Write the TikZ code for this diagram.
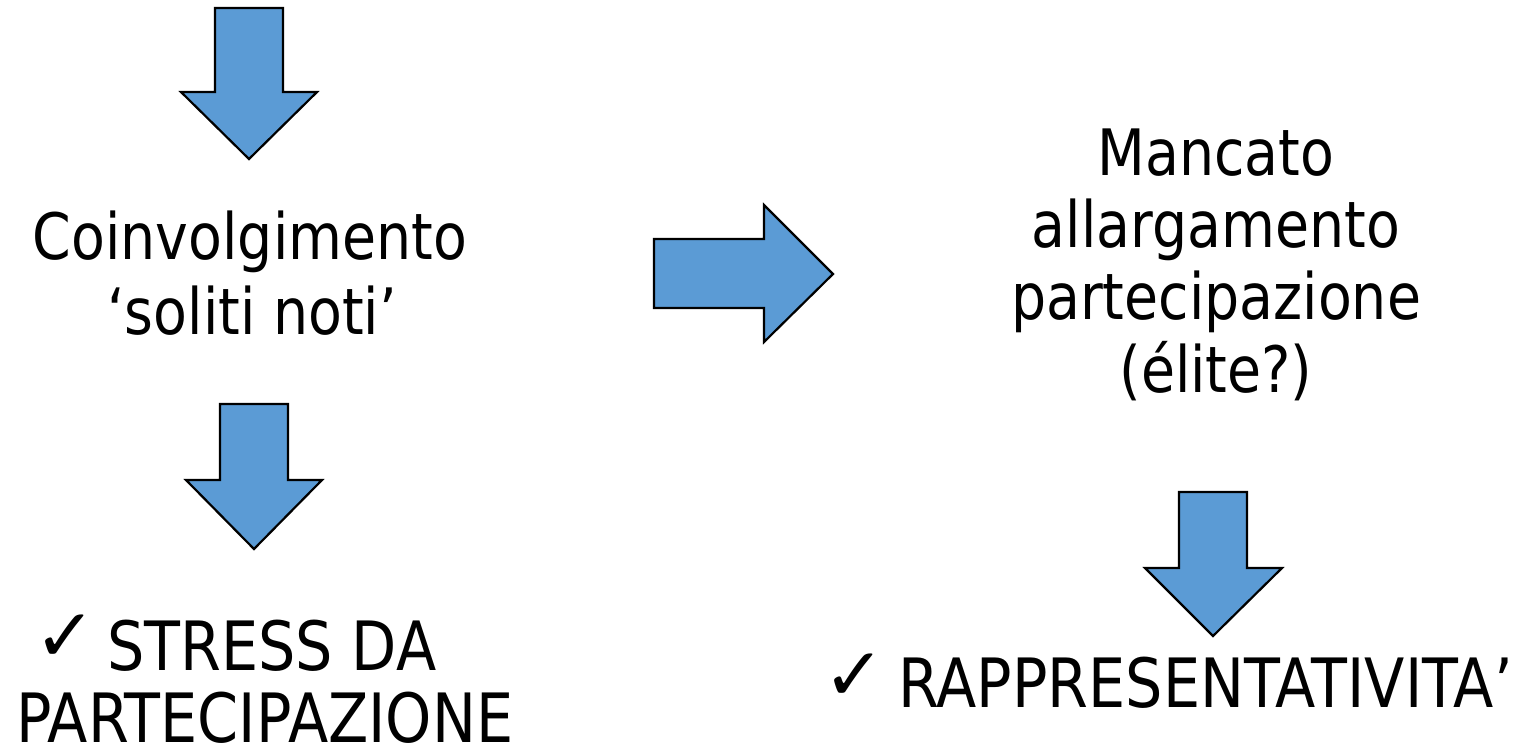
\documentclass[tikz,border=0pt]{standalone}
\usepackage{fontspec}
\setmainfont[FakeStretch=0.865]{DejaVu Sans}
\newfontfamily\chkfont{DejaVu Sans}
\definecolor{arrowblue}{RGB}{91,155,213}
\tikzset{
  blockarrow/.style={fill=arrowblue, draw=black, line width=2.2pt, line join=miter},
  line/.style={anchor=base, inner sep=0pt, font=\fontsize{64}{77}\selectfont},
  bigline/.style={anchor=base west, inner sep=0pt, font=\fontsize{68}{80}\selectfont},
  tick/.style={anchor=base west, inner sep=0pt, font=\chkfont\fontsize{74}{88}\selectfont}
}
\begin{document}
\begin{tikzpicture}[x=1pt, y=-1pt]
  \useasboundingbox (0,0) rectangle (1517,749);

  % block arrows
  \draw[blockarrow] (215,8) -- (283,8) -- (283,92) -- (317,92) -- (249,159)
                    -- (181,92) -- (215,92) -- cycle;
  \draw[blockarrow] (220,404) -- (288,404) -- (288,480) -- (322,480) -- (254,549)
                    -- (186,480) -- (220,480) -- cycle;
  \draw[blockarrow] (1179,492) -- (1247,492) -- (1247,568) -- (1282,568) -- (1213,636)
                    -- (1145,568) -- (1179,568) -- cycle;
  \draw[blockarrow] (654,239) -- (764,239) -- (764,205) -- (833,274) -- (764,342)
                    -- (764,308) -- (654,308) -- cycle;

  % left block
  \node[line] (coinv) at (250,259) {Coinvolgimento};
  \node[line] (soliti) at (252,334) {‘soliti noti’};

  % right block
  \node[line] (mancato) at (1216,175) {Mancato};
  \node[line] (allarg) at (1216,247) {allargamento};
  \node[line] (partec) at (1216,319) {partecipazione};
  \node[line] (elite) at (1216,392) {(élite?)};

  % bottom left
  \node[tick] (tickA) at (34,661) {✓};
  \node[bigline] (stress) at (107,670) {STRESS DA};
  \node[bigline] (stressB) at (16,742) {PARTECIPAZIONE};

  % bottom right
  \node[tick] (tickB) at (823,700) {✓};
  \node[bigline] (rappr) at (898,707) {RAPPRESENTATIVITA’};
\end{tikzpicture}
\end{document}
